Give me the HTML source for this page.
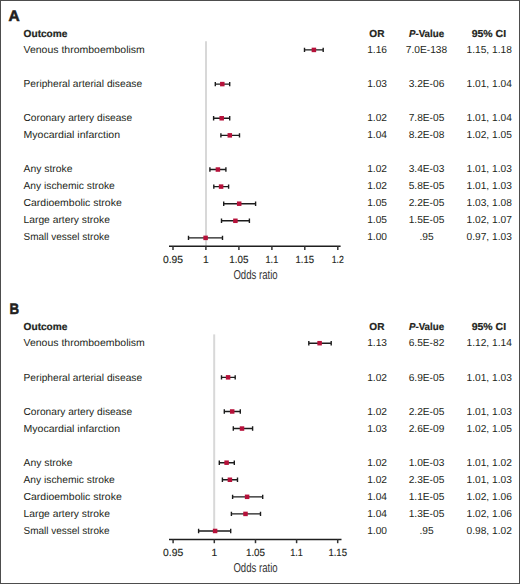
<!DOCTYPE html>
<html><head><meta charset="utf-8"><style>
html,body{margin:0;padding:0;background:#fff;}
svg{display:block;text-rendering:geometricPrecision;}
text{font-family:"Liberation Sans",sans-serif;fill:#231f20;}
.pl{font-size:15.2px;font-weight:bold;stroke:#231f20;stroke-width:0.55px;}
.hd{font-size:10.2px;font-weight:bold;stroke:#231f20;stroke-width:0.2px;}
.t{font-size:10.2px;}
.n{font-size:10.2px;}
.tk{font-size:10.3px;stroke:#231f20;stroke-width:0.15px;}
.ax{font-size:12.8px;fill:#333;}
</style></head><body>
<svg width="520" height="584" viewBox="0 0 520 584">
<rect x="0.5" y="0.5" width="519" height="583" fill="#fff" stroke="#4d4d4d" stroke-width="1"/>
<text x="8.6" y="20.7" class="pl" textLength="11.2" lengthAdjust="spacingAndGlyphs">A</text>
<text x="23.6" y="36.9" class="hd" textLength="43.8" lengthAdjust="spacingAndGlyphs">Outcome</text>
<text x="376.9" y="37.3" class="hd" text-anchor="middle" textLength="15.1" lengthAdjust="spacingAndGlyphs">OR</text>
<text x="426.5" y="37.3" class="hd" text-anchor="middle" textLength="35.1" lengthAdjust="spacingAndGlyphs"><tspan font-style="italic">P</tspan>-Value</text>
<text x="488.9" y="37.3" class="hd" text-anchor="middle" textLength="34.4" lengthAdjust="spacingAndGlyphs">95% CI</text>
<line x1="206.0" y1="41.3" x2="206.0" y2="246.2" stroke="#d8d8d8" stroke-width="2"/>
<text x="23.5" y="53.30" class="t" textLength="121.3" lengthAdjust="spacingAndGlyphs">Venous thromboembolism</text>
<text x="377.1" y="53.30" class="n" text-anchor="middle">1.16</text>
<text x="426.5" y="53.30" class="n" text-anchor="middle">7.0E-138</text>
<text x="489.2" y="53.30" class="n" text-anchor="middle">1.15, 1.18</text>
<path d="M304.5 49.91H323.2M304.5 47.71V52.11M323.2 47.71V52.11" stroke="#1c1c1c" stroke-width="1.4" fill="none"/>
<rect x="311.65" y="47.66" width="4.5" height="4.5" fill="#b6113a"/>
<text x="23.5" y="87.30" class="t" textLength="118.6" lengthAdjust="spacingAndGlyphs">Peripheral arterial disease</text>
<text x="377.1" y="87.30" class="n" text-anchor="middle">1.03</text>
<text x="426.5" y="87.30" class="n" text-anchor="middle">3.2E-06</text>
<text x="489.2" y="87.30" class="n" text-anchor="middle">1.01, 1.04</text>
<path d="M215.3 84.09H229.7M215.3 81.89V86.29M229.7 81.89V86.29" stroke="#1c1c1c" stroke-width="1.4" fill="none"/>
<rect x="220.05" y="81.84" width="4.5" height="4.5" fill="#b6113a"/>
<text x="23.5" y="121.30" class="t" textLength="108.6" lengthAdjust="spacingAndGlyphs">Coronary artery disease</text>
<text x="377.1" y="121.30" class="n" text-anchor="middle">1.02</text>
<text x="426.5" y="121.30" class="n" text-anchor="middle">7.8E-05</text>
<text x="489.2" y="121.30" class="n" text-anchor="middle">1.01, 1.04</text>
<path d="M213.6 118.26H229.7M213.6 116.06V120.46M229.7 116.06V120.46" stroke="#1c1c1c" stroke-width="1.4" fill="none"/>
<rect x="219.45" y="116.01" width="4.5" height="4.5" fill="#b6113a"/>
<text x="23.5" y="138.30" class="t" textLength="96.6" lengthAdjust="spacingAndGlyphs">Myocardial infarction</text>
<text x="377.1" y="138.30" class="n" text-anchor="middle">1.04</text>
<text x="426.5" y="138.30" class="n" text-anchor="middle">8.2E-08</text>
<text x="489.2" y="138.30" class="n" text-anchor="middle">1.02, 1.05</text>
<path d="M220.9 135.35H239.5M220.9 133.15V137.55M239.5 133.15V137.55" stroke="#1c1c1c" stroke-width="1.4" fill="none"/>
<rect x="227.55" y="133.10" width="4.5" height="4.5" fill="#b6113a"/>
<text x="23.5" y="172.30" class="t" textLength="49.0" lengthAdjust="spacingAndGlyphs">Any stroke</text>
<text x="377.1" y="172.30" class="n" text-anchor="middle">1.02</text>
<text x="426.5" y="172.30" class="n" text-anchor="middle">3.4E-03</text>
<text x="489.2" y="172.30" class="n" text-anchor="middle">1.01, 1.03</text>
<path d="M209.9 169.53H225.9M209.9 167.33V171.73M225.9 167.33V171.73" stroke="#1c1c1c" stroke-width="1.4" fill="none"/>
<rect x="215.65" y="167.28" width="4.5" height="4.5" fill="#b6113a"/>
<text x="23.5" y="189.30" class="t" textLength="91.3" lengthAdjust="spacingAndGlyphs">Any ischemic stroke</text>
<text x="377.1" y="189.30" class="n" text-anchor="middle">1.02</text>
<text x="426.5" y="189.30" class="n" text-anchor="middle">5.8E-05</text>
<text x="489.2" y="189.30" class="n" text-anchor="middle">1.01, 1.03</text>
<path d="M213.8 186.61H228.6M213.8 184.41V188.81M228.6 184.41V188.81" stroke="#1c1c1c" stroke-width="1.4" fill="none"/>
<rect x="218.85" y="184.36" width="4.5" height="4.5" fill="#b6113a"/>
<text x="23.5" y="206.30" class="t" textLength="98.2" lengthAdjust="spacingAndGlyphs">Cardioembolic stroke</text>
<text x="377.1" y="206.30" class="n" text-anchor="middle">1.05</text>
<text x="426.5" y="206.30" class="n" text-anchor="middle">2.2E-05</text>
<text x="489.2" y="206.30" class="n" text-anchor="middle">1.03, 1.08</text>
<path d="M223.7 203.70H255.6M223.7 201.50V205.90M255.6 201.50V205.90" stroke="#1c1c1c" stroke-width="1.4" fill="none"/>
<rect x="236.95" y="201.45" width="4.5" height="4.5" fill="#b6113a"/>
<text x="23.5" y="223.30" class="t" textLength="86.4" lengthAdjust="spacingAndGlyphs">Large artery stroke</text>
<text x="377.1" y="223.30" class="n" text-anchor="middle">1.05</text>
<text x="426.5" y="223.30" class="n" text-anchor="middle">1.5E-05</text>
<text x="489.2" y="223.30" class="n" text-anchor="middle">1.02, 1.07</text>
<path d="M221.5 220.79H249.4M221.5 218.59V222.99M249.4 218.59V222.99" stroke="#1c1c1c" stroke-width="1.4" fill="none"/>
<rect x="233.15" y="218.54" width="4.5" height="4.5" fill="#b6113a"/>
<text x="23.5" y="240.30" class="t" textLength="86.0" lengthAdjust="spacingAndGlyphs">Small vessel stroke</text>
<text x="377.1" y="240.30" class="n" text-anchor="middle">1.00</text>
<text x="426.5" y="240.30" class="n" text-anchor="middle">.95</text>
<text x="489.2" y="240.30" class="n" text-anchor="middle">0.97, 1.03</text>
<path d="M188.5 237.88H222.5M188.5 235.68V240.08M222.5 235.68V240.08" stroke="#1c1c1c" stroke-width="1.4" fill="none"/>
<rect x="203.35" y="235.63" width="4.5" height="4.5" fill="#b6113a"/>
<line x1="169.0" y1="246.2" x2="340.6" y2="246.2" stroke="#1e1e1e" stroke-width="1.5"/>
<line x1="173.0" y1="246.2" x2="173.0" y2="250.0" stroke="#333" stroke-width="1.5"/>
<text x="173.0" y="263.0" class="tk" text-anchor="middle">0.95</text>
<line x1="205.9" y1="246.2" x2="205.9" y2="250.0" stroke="#333" stroke-width="1.5"/>
<text x="205.9" y="263.0" class="tk" text-anchor="middle">1</text>
<line x1="238.9" y1="246.2" x2="238.9" y2="250.0" stroke="#333" stroke-width="1.5"/>
<text x="238.9" y="263.0" class="tk" text-anchor="middle" textLength="19.1" lengthAdjust="spacingAndGlyphs">1.05</text>
<line x1="271.9" y1="246.2" x2="271.9" y2="250.0" stroke="#333" stroke-width="1.5"/>
<text x="271.9" y="263.0" class="tk" text-anchor="middle" textLength="12.7" lengthAdjust="spacingAndGlyphs">1.1</text>
<line x1="304.8" y1="246.2" x2="304.8" y2="250.0" stroke="#333" stroke-width="1.5"/>
<text x="304.8" y="263.0" class="tk" text-anchor="middle" textLength="18.6" lengthAdjust="spacingAndGlyphs">1.15</text>
<line x1="337.8" y1="246.2" x2="337.8" y2="250.0" stroke="#333" stroke-width="1.5"/>
<text x="337.8" y="263.0" class="tk" text-anchor="middle" textLength="12.2" lengthAdjust="spacingAndGlyphs">1.2</text>
<text x="255.5" y="279.3" class="ax" text-anchor="middle" textLength="44.2" lengthAdjust="spacingAndGlyphs">Odds ratio</text>
<text x="9.6" y="313.8" class="pl" textLength="9.6" lengthAdjust="spacingAndGlyphs">B</text>
<text x="23.6" y="330.0" class="hd" textLength="43.8" lengthAdjust="spacingAndGlyphs">Outcome</text>
<text x="376.9" y="330.4" class="hd" text-anchor="middle" textLength="15.1" lengthAdjust="spacingAndGlyphs">OR</text>
<text x="426.5" y="330.4" class="hd" text-anchor="middle" textLength="35.1" lengthAdjust="spacingAndGlyphs"><tspan font-style="italic">P</tspan>-Value</text>
<text x="488.9" y="330.4" class="hd" text-anchor="middle" textLength="34.4" lengthAdjust="spacingAndGlyphs">95% CI</text>
<line x1="214.2" y1="334.4" x2="214.2" y2="532.5" stroke="#d8d8d8" stroke-width="2"/>
<text x="23.5" y="346.40" class="t" textLength="121.3" lengthAdjust="spacingAndGlyphs">Venous thromboembolism</text>
<text x="377.1" y="346.40" class="n" text-anchor="middle">1.13</text>
<text x="426.5" y="346.40" class="n" text-anchor="middle">6.5E-82</text>
<text x="489.2" y="346.40" class="n" text-anchor="middle">1.12, 1.14</text>
<path d="M308.8 343.20H331.2M308.8 341.00V345.40M331.2 341.00V345.40" stroke="#1c1c1c" stroke-width="1.4" fill="none"/>
<rect x="317.35" y="340.95" width="4.5" height="4.5" fill="#b6113a"/>
<text x="23.5" y="380.54" class="t" textLength="118.6" lengthAdjust="spacingAndGlyphs">Peripheral arterial disease</text>
<text x="377.1" y="380.54" class="n" text-anchor="middle">1.02</text>
<text x="426.5" y="380.54" class="n" text-anchor="middle">6.9E-05</text>
<text x="489.2" y="380.54" class="n" text-anchor="middle">1.01, 1.03</text>
<path d="M221.5 377.34H235.2M221.5 375.14V379.54M235.2 375.14V379.54" stroke="#1c1c1c" stroke-width="1.4" fill="none"/>
<rect x="225.85" y="375.09" width="4.5" height="4.5" fill="#b6113a"/>
<text x="23.5" y="414.68" class="t" textLength="108.6" lengthAdjust="spacingAndGlyphs">Coronary artery disease</text>
<text x="377.1" y="414.68" class="n" text-anchor="middle">1.02</text>
<text x="426.5" y="414.68" class="n" text-anchor="middle">2.2E-05</text>
<text x="489.2" y="414.68" class="n" text-anchor="middle">1.01, 1.03</text>
<path d="M224.3 411.48H240.3M224.3 409.28V413.68M240.3 409.28V413.68" stroke="#1c1c1c" stroke-width="1.4" fill="none"/>
<rect x="229.95" y="409.23" width="4.5" height="4.5" fill="#b6113a"/>
<text x="23.5" y="431.75" class="t" textLength="96.6" lengthAdjust="spacingAndGlyphs">Myocardial infarction</text>
<text x="377.1" y="431.75" class="n" text-anchor="middle">1.03</text>
<text x="426.5" y="431.75" class="n" text-anchor="middle">2.6E-09</text>
<text x="489.2" y="431.75" class="n" text-anchor="middle">1.02, 1.05</text>
<path d="M233.3 428.55H252.6M233.3 426.35V430.75M252.6 426.35V430.75" stroke="#1c1c1c" stroke-width="1.4" fill="none"/>
<rect x="239.75" y="426.30" width="4.5" height="4.5" fill="#b6113a"/>
<text x="23.5" y="465.89" class="t" textLength="49.0" lengthAdjust="spacingAndGlyphs">Any stroke</text>
<text x="377.1" y="465.89" class="n" text-anchor="middle">1.02</text>
<text x="426.5" y="465.89" class="n" text-anchor="middle">1.0E-03</text>
<text x="489.2" y="465.89" class="n" text-anchor="middle">1.01, 1.02</text>
<path d="M219.3 462.69H234.3M219.3 460.49V464.89M234.3 460.49V464.89" stroke="#1c1c1c" stroke-width="1.4" fill="none"/>
<rect x="224.35" y="460.44" width="4.5" height="4.5" fill="#b6113a"/>
<text x="23.5" y="482.96" class="t" textLength="91.3" lengthAdjust="spacingAndGlyphs">Any ischemic stroke</text>
<text x="377.1" y="482.96" class="n" text-anchor="middle">1.02</text>
<text x="426.5" y="482.96" class="n" text-anchor="middle">2.3E-05</text>
<text x="489.2" y="482.96" class="n" text-anchor="middle">1.01, 1.03</text>
<path d="M222.4 479.76H237.5M222.4 477.56V481.96M237.5 477.56V481.96" stroke="#1c1c1c" stroke-width="1.4" fill="none"/>
<rect x="227.65" y="477.51" width="4.5" height="4.5" fill="#b6113a"/>
<text x="23.5" y="500.03" class="t" textLength="98.2" lengthAdjust="spacingAndGlyphs">Cardioembolic stroke</text>
<text x="377.1" y="500.03" class="n" text-anchor="middle">1.04</text>
<text x="426.5" y="500.03" class="n" text-anchor="middle">1.1E-05</text>
<text x="489.2" y="500.03" class="n" text-anchor="middle">1.02, 1.06</text>
<path d="M232.6 496.83H262.7M232.6 494.63V499.03M262.7 494.63V499.03" stroke="#1c1c1c" stroke-width="1.4" fill="none"/>
<rect x="244.85" y="494.58" width="4.5" height="4.5" fill="#b6113a"/>
<text x="23.5" y="517.10" class="t" textLength="86.4" lengthAdjust="spacingAndGlyphs">Large artery stroke</text>
<text x="377.1" y="517.10" class="n" text-anchor="middle">1.04</text>
<text x="426.5" y="517.10" class="n" text-anchor="middle">1.3E-05</text>
<text x="489.2" y="517.10" class="n" text-anchor="middle">1.02, 1.06</text>
<path d="M231.4 513.90H260.5M231.4 511.70V516.10M260.5 511.70V516.10" stroke="#1c1c1c" stroke-width="1.4" fill="none"/>
<rect x="243.25" y="511.65" width="4.5" height="4.5" fill="#b6113a"/>
<text x="23.5" y="534.17" class="t" textLength="86.0" lengthAdjust="spacingAndGlyphs">Small vessel stroke</text>
<text x="377.1" y="534.17" class="n" text-anchor="middle">1.00</text>
<text x="426.5" y="534.17" class="n" text-anchor="middle">.95</text>
<text x="489.2" y="534.17" class="n" text-anchor="middle">0.98, 1.02</text>
<path d="M198.6 530.97H230.7M198.6 528.77V533.17M230.7 528.77V533.17" stroke="#1c1c1c" stroke-width="1.4" fill="none"/>
<rect x="212.85" y="528.72" width="4.5" height="4.5" fill="#b6113a"/>
<line x1="169.0" y1="539.4" x2="341.5" y2="539.4" stroke="#1e1e1e" stroke-width="1.5"/>
<line x1="173.1" y1="539.4" x2="173.1" y2="543.2" stroke="#333" stroke-width="1.5"/>
<text x="173.1" y="555.8" class="tk" text-anchor="middle">0.95</text>
<line x1="214.3" y1="539.4" x2="214.3" y2="543.2" stroke="#333" stroke-width="1.5"/>
<text x="214.3" y="555.8" class="tk" text-anchor="middle">1</text>
<line x1="255.5" y1="539.4" x2="255.5" y2="543.2" stroke="#333" stroke-width="1.5"/>
<text x="255.5" y="555.8" class="tk" text-anchor="middle" textLength="19.1" lengthAdjust="spacingAndGlyphs">1.05</text>
<line x1="296.6" y1="539.4" x2="296.6" y2="543.2" stroke="#333" stroke-width="1.5"/>
<text x="296.6" y="555.8" class="tk" text-anchor="middle" textLength="12.7" lengthAdjust="spacingAndGlyphs">1.1</text>
<line x1="337.7" y1="539.4" x2="337.7" y2="543.2" stroke="#333" stroke-width="1.5"/>
<text x="337.7" y="555.8" class="tk" text-anchor="middle" textLength="18.6" lengthAdjust="spacingAndGlyphs">1.15</text>
<text x="255.5" y="572.4" class="ax" text-anchor="middle" textLength="44.2" lengthAdjust="spacingAndGlyphs">Odds ratio</text>
</svg>
</body></html>
